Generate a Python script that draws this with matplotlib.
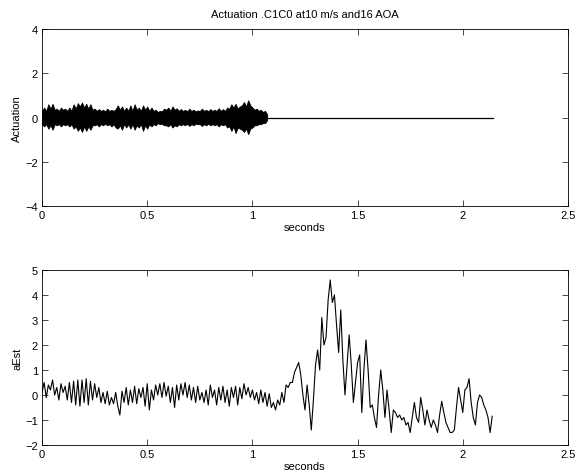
import numpy as np
import matplotlib
matplotlib.use("Agg")
import matplotlib.pyplot as plt

# --- data ---
title = "Actuation .C1C0 at10 m/s and16 AOA"
dt = 0.01
t_end = 2.145          # end of record (s)

# top: envelope of the dense actuation band (0 .. 1.07 s, step dt), zero after
act_upper = [0.3, 0.45, 0.3,
             0.6, 0.4, 0.62, 0.35,
             0.4, 0.3, 0.45, 0.35, 0.4, 0.3, 0.45, 0.3, 0.6, 0.4,
             0.65, 0.5, 0.68, 0.45, 0.62, 0.4, 0.6, 0.35,
             0.4, 0.3, 0.38, 0.3, 0.35, 0.28, 0.4, 0.3, 0.35, 0.3, 0.38,
             0.55, 0.35, 0.5, 0.3, 0.45, 0.3, 0.55,
             0.3, 0.6, 0.35, 0.45, 0.3, 0.55, 0.35, 0.5, 0.3, 0.45,
             0.3, 0.35, 0.25, 0.3, 0.28, 0.4,
             0.35, 0.45, 0.3, 0.5, 0.35, 0.42, 0.3, 0.38,
             0.3, 0.35, 0.28, 0.4, 0.3, 0.35, 0.28, 0.32, 0.3, 0.4, 0.3,
             0.35, 0.28, 0.38, 0.3, 0.35, 0.3, 0.42, 0.3, 0.38, 0.3, 0.45,
             0.4, 0.6, 0.45, 0.62, 0.4, 0.5, 0.55, 0.7, 0.5, 0.78, 0.55,
             0.45, 0.35, 0.4, 0.3, 0.35, 0.25, 0.3, 0.15]
act_lower = [-0.3, -0.4, -0.3,
             -0.5, -0.35, -0.55, -0.3,
             -0.35, -0.3, -0.4, -0.3, -0.35, -0.3, -0.4, -0.3, -0.5, -0.4,
             -0.6, -0.45, -0.65, -0.4, -0.6, -0.4, -0.55, -0.35,
             -0.35, -0.3, -0.4, -0.3, -0.35, -0.28, -0.35, -0.3, -0.4, -0.3, -0.45,
             -0.5, -0.35, -0.55, -0.3, -0.45, -0.3, -0.5,
             -0.3, -0.55, -0.35, -0.45, -0.3, -0.6, -0.35, -0.5, -0.3, -0.4,
             -0.3, -0.35, -0.25, -0.3, -0.28, -0.35,
             -0.35, -0.4, -0.3, -0.45, -0.35, -0.4, -0.3, -0.35,
             -0.3, -0.35, -0.28, -0.38, -0.3, -0.35, -0.28, -0.3, -0.3, -0.38, -0.3,
             -0.35, -0.28, -0.35, -0.3, -0.35, -0.3, -0.4, -0.3, -0.35, -0.3, -0.45,
             -0.4, -0.6, -0.4, -0.7, -0.45, -0.5, -0.55, -0.65, -0.5, -0.75, -0.5,
             -0.45, -0.35, -0.35, -0.3, -0.3, -0.25, -0.25, -0.12]

# bottom: aEst, sampled every dt from 0 s
aest = [0.1, 0.5, -0.1, 0.4, 0.2, 0.6, 0.0, 0.3, -0.2, 0.45,
        0.1, 0.35, -0.2, 0.5, -0.3, 0.55, -0.4, 0.6, -0.45, 0.6,
        -0.3, 0.65, -0.4, 0.55, -0.2, 0.45, -0.1, 0.3, -0.3, 0.1,
        -0.35, 0.15, -0.4, -0.1, -0.35, 0.1, -0.45, -0.8, 0.15, -0.3,
        0.3, -0.4, 0.2, -0.3, 0.35, -0.35, 0.25, -0.1, 0.3, -0.45,
        0.45, -0.6, 0.2, -0.2, 0.4, 0.0, 0.45, -0.1, 0.5, -0.05,
        0.35, -0.3, 0.3, -0.5, 0.4, -0.2, 0.45, 0.0, 0.5, -0.1,
        0.4, -0.2, 0.3, -0.3, 0.35, -0.2, 0.1, -0.3, 0.2, -0.4,
        0.4, -0.1, 0.2, -0.4, 0.3, -0.2, 0.35, -0.3, 0.2, -0.45,
        0.3, -0.1, 0.35, -0.4, 0.3, -0.15, 0.45, 0.0, 0.3, -0.1,
        0.2, -0.2, 0.1, -0.35, 0.2, -0.3, 0.1, -0.45, 0.05, -0.5,
        -0.3, -0.6, -0.2, -0.4, 0.1, -0.3, 0.4, 0.3, 0.5, 0.5,
        0.9, 1.1, 1.3, 0.8, 0.0, -0.6, 0.4, -0.4, -1.4, -0.2,
        1.2, 1.8, 1.0, 3.1, 2.0, 2.3, 3.8, 4.6, 3.7, 4.0,
        2.8, 1.7, 3.4, 1.4, 0.0, 1.2, 2.4, 1.2, -0.3, 0.5,
        1.3, 1.6, -0.7, 1.0, 2.2, 1.0, -0.5, -0.4, -0.9, -1.3,
        0.0, 1.0, 0.2, -0.9, 0.2, -0.6, -1.5, -0.6, -0.7, -0.9,
        -0.8, -1.0, -0.9, -1.2, -1.1, -1.5, -0.9, -0.3, -0.9, -1.1,
        -0.1, -0.6, -1.2, -0.6, -1.0, -1.3, -1.0, -1.2, -1.5, -0.8,
        -0.25, -0.7, -1.1, -1.3, -1.5, -1.5, -1.4, -0.5, 0.3, -0.2,
        -0.7, 0.2, 0.3, 0.65, -0.3, -0.9, -1.2, -0.3, 0.0, -0.1,
        -0.4, -0.6, -0.9, -1.5, -0.85]

xticks = [0, 0.5, 1, 1.5, 2, 2.5]
yticks_top = [-4, -2, 0, 2, 4]
yticks_bot = [-2, -1, 0, 1, 2, 3, 4, 5]

plt.rcParams['font.family'] = ['Liberation Sans', 'DejaVu Sans']
plt.rcParams['font.size'] = 8

fig = plt.figure(figsize=(5.76, 4.77), dpi=100)
ax1 = fig.add_axes([0.073, 0.566, 0.913, 0.371])
ax2 = fig.add_axes([0.073, 0.065, 0.913, 0.367])

t_band = np.arange(len(act_upper)) * dt
ax1.fill_between(t_band, act_lower, act_upper, color='black', lw=0.6)
ax1.plot([t_band[-1], t_end], [0, 0], color='black', lw=0.9)
ax1.set_xlim(0, 2.5)
ax1.set_ylim(-4, 4)
ax1.set_yticks(yticks_top)
ax1.set_xlabel("seconds", labelpad=1)
ax1.set_ylabel("Actuation", labelpad=2)
ax1.set_title(title, fontsize=8, pad=9)

t_a = np.arange(len(aest)) * dt
ax2.plot(t_a, aest, color='black', lw=0.8)
ax2.set_xlim(0, 2.5)
ax2.set_ylim(-2, 5)
ax2.set_yticks(yticks_bot)
ax2.set_xlabel("seconds", labelpad=1)
ax2.set_ylabel("aEst", labelpad=2)

for ax in (ax1, ax2):
    ax.set_xticks(xticks)
    ax.set_xticklabels([f"{v:g}" for v in xticks])
    ax.tick_params(direction='in', top=True, right=True, length=4, width=0.5, pad=3)
    for s in ax.spines.values():
        s.set_linewidth(0.6)

fig.savefig("out.png", dpi=100)
